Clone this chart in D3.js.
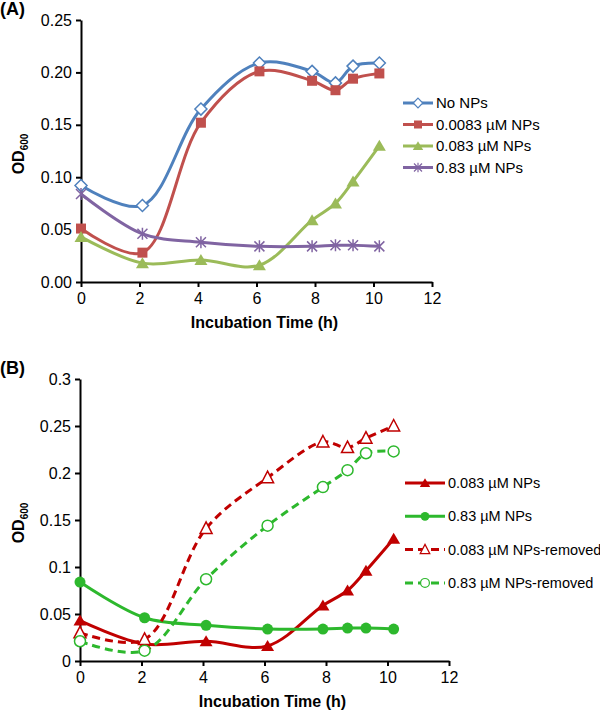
<!DOCTYPE html>
<meta charset="utf-8">
<script src="https://d3js.org/d3.v7.min.js"></script>
<style>
  body {margin: 0; background: #fff;}
  svg {font-family: "Liberation Sans", Arial, sans-serif;}
</style>
<div id="my_dataviz"></div>
<script>

// time points (h)
var hours = [0, 2.1, 4.1, 6.1, 7.9, 8.7, 9.3, 10.2];

// panel A series
var noNPs     = [0.092, 0.073, 0.165, 0.209, 0.201, 0.190, 0.206, 0.209];
var np0083    = [0.051, 0.028, 0.152, 0.201, 0.192, 0.183, 0.194, 0.199];
var np083     = [0.043, 0.018, 0.021, 0.016, 0.059, 0.075, 0.096, 0.130];
var np83      = [0.084, 0.046, 0.038, 0.034, 0.034, 0.035, 0.035, 0.034];

// panel B series
var np083Removed = [0.030, 0.023, 0.141, 0.195, 0.233, 0.227, 0.237, 0.250];
var np83Removed  = [0.021, 0.011, 0.087, 0.144, 0.185, 0.203, 0.221, 0.223];

var xTicks = [0, 2, 4, 6, 8, 10, 12];
var yTicksA = [0, 0.05, 0.10, 0.15, 0.20, 0.25];
var yTicksB = [0, 0.05, 0.1, 0.15, 0.2, 0.25, 0.3];
var yLabelsB = ["0", "0.05", "0.1", "0.15", "0.2", "0.25", "0.3"];

var seriesA = [
  {name: "No NPs", values: noNPs, color: "#4F81BD", marker: "diamondOpen", dash: null},
  {name: "0.0083 \u00b5M NPs", values: np0083, color: "#C0504D", marker: "square", dash: null},
  {name: "0.083 \u00b5M NPs", values: np083, color: "#9BBB59", marker: "triangle", dash: null},
  {name: "0.83 \u00b5M NPs", values: np83, color: "#8064A2", marker: "star", dash: null}
];
var seriesB = [
  {name: "0.083 \u00b5M NPs", values: np083, color: "#C00000", marker: "triangle", dash: null},
  {name: "0.83 \u00b5M NPs", values: np83, color: "#2DB82D", marker: "circle", dash: null},
  {name: "0.083 \u00b5M NPs-removed", values: np083Removed, color: "#C00000", marker: "triangleOpen", dash: "8,5"},
  {name: "0.83 \u00b5M NPs-removed", values: np83Removed, color: "#2DB82D", marker: "circleOpen", dash: "8,5"}
];

var svg = d3.select("#my_dataviz")
  .append("svg")
    .attr("width", 600)
    .attr("height", 713);

// draw a marker of a given type at (0,0) inside g
function drawMarker(g, type, color) {
  if (type == "diamondOpen") {
    g.append("path").attr("d", "M0,-6L6,0L0,6L-6,0Z")
      .attr("fill", "white").attr("stroke", color).attr("stroke-width", 1.5);
  } else if (type == "square") {
    g.append("rect").attr("x", -5).attr("y", -5).attr("width", 10).attr("height", 10)
      .attr("fill", color);
  } else if (type == "triangle") {
    g.append("path").attr("d", "M0,-6L6.5,5L-6.5,5Z").attr("fill", color);
  } else if (type == "triangleOpen") {
    g.append("path").attr("d", "M0,-6.5L6,5L-6,5Z")
      .attr("fill", "white").attr("stroke", color).attr("stroke-width", 1.5);
  } else if (type == "star") {
    g.append("path").attr("d", "M-5,-5L5,5M-5,5L5,-5M0,-6L0,6")
      .attr("stroke", color).attr("stroke-width", 1.5);
  } else if (type == "circle") {
    g.append("circle").attr("r", 5.5).attr("fill", color);
  } else if (type == "circleOpen") {
    g.append("circle").attr("r", 5.5)
      .attr("fill", "white").attr("stroke", color).attr("stroke-width", 1.5);
  }
}

function drawPanel(opts) {
  var x = d3.scaleLinear().domain([0, 12]).range([opts.left, opts.right]);
  var y = d3.scaleLinear().domain([0, opts.ymax]).range([opts.bottom, opts.top]);

  // X axis
  var gx = svg.append("g")
    .attr("transform", "translate(0," + opts.bottom + ")")
    .call(d3.axisBottom(x).tickValues(xTicks).tickSize(5).tickPadding(6).tickSizeOuter(0));
  // Y axis
  var gy = svg.append("g")
    .attr("transform", "translate(" + opts.left + ",0)")
    .call(d3.axisLeft(y).tickValues(opts.yTicks).tickSize(5).tickPadding(4)
      .tickSizeOuter(0).tickFormat(opts.fmt));
  [gx, gy].forEach(function(g) {
    g.select(".domain").attr("stroke", "#000").attr("stroke-width", 2);
    g.selectAll(".tick line").attr("stroke", "#000").attr("stroke-width", 2);
    g.selectAll(".tick text").attr("fill", "#000")
      .style("font-size", "16px").style("font-family", "Liberation Sans, Arial, sans-serif");
  });

  // lines
  var line = d3.line()
    .x(function(d, i) { return x(hours[i]); })
    .y(function(d) { return y(d); })
    .curve(d3.curveCatmullRom.alpha(0.5));

  opts.series.forEach(function(s) {
    svg.append("path")
      .datum(s.values)
      .attr("d", line)
      .attr("fill", "none")
      .attr("stroke", s.color)
      .attr("stroke-width", 3)
      .attr("stroke-dasharray", s.dash);
  });
  opts.series.forEach(function(s) {
    s.values.forEach(function(v, i) {
      var g = svg.append("g").attr("transform", "translate(" + x(hours[i]) + "," + y(v) + ")");
      drawMarker(g, s.marker, s.color);
    });
  });

  // legend
  opts.series.forEach(function(s, i) {
    var ly = opts.legY + i * opts.legStep;
    svg.append("line")
      .attr("x1", opts.legX).attr("x2", opts.legX + opts.legW)
      .attr("y1", ly).attr("y2", ly)
      .attr("stroke", s.color).attr("stroke-width", 3)
      .attr("stroke-dasharray", s.dash);
    var g = svg.append("g")
      .attr("transform", "translate(" + (opts.legX + opts.legW / 2) + "," + ly + ") scale(0.8)");
    drawMarker(g, s.marker, s.color);
    svg.append("text")
      .attr("x", opts.legX + opts.legW + 3).attr("y", ly + 5)
      .style("font-size", opts.legFont)
      .text(s.name);
  });

  // axis titles
  svg.append("text")
    .attr("x", (opts.left + opts.right) / 2 + 8).attr("y", opts.bottom + 46)
    .attr("text-anchor", "middle")
    .style("font-size", "16px").style("font-weight", "bold")
    .text("Incubation Time (h)");

  var yt = svg.append("text")
    .attr("transform", "translate(24," + ((opts.top + opts.bottom) / 2 + 3) + ") rotate(-90)")
    .attr("text-anchor", "middle")
    .style("font-size", "16px").style("font-weight", "bold");
  yt.append("tspan").text("OD");
  yt.append("tspan").attr("dy", 4).style("font-size", "10px").text("600");

  // panel label
  svg.append("text")
    .attr("x", 0).attr("y", opts.top - 5)
    .style("font-size", "18px").style("font-weight", "bold")
    .text(opts.label);
}

drawPanel({
  label: "(A)", series: seriesA,
  left: 81, right: 432, top: 20, bottom: 282, ymax: 0.25,
  yTicks: yTicksA, fmt: d3.format(".2f"),
  legX: 403, legW: 30, legY: 103, legStep: 21.5, legFont: "15px"
});

drawPanel({
  label: "(B)", series: seriesB,
  left: 80, right: 449, top: 379, bottom: 661, ymax: 0.3,
  yTicks: yTicksB, fmt: function(d, i) { return yLabelsB[i]; },
  legX: 405, legW: 40, legY: 483, legStep: 33.3, legFont: "14.5px"
});

</script>
